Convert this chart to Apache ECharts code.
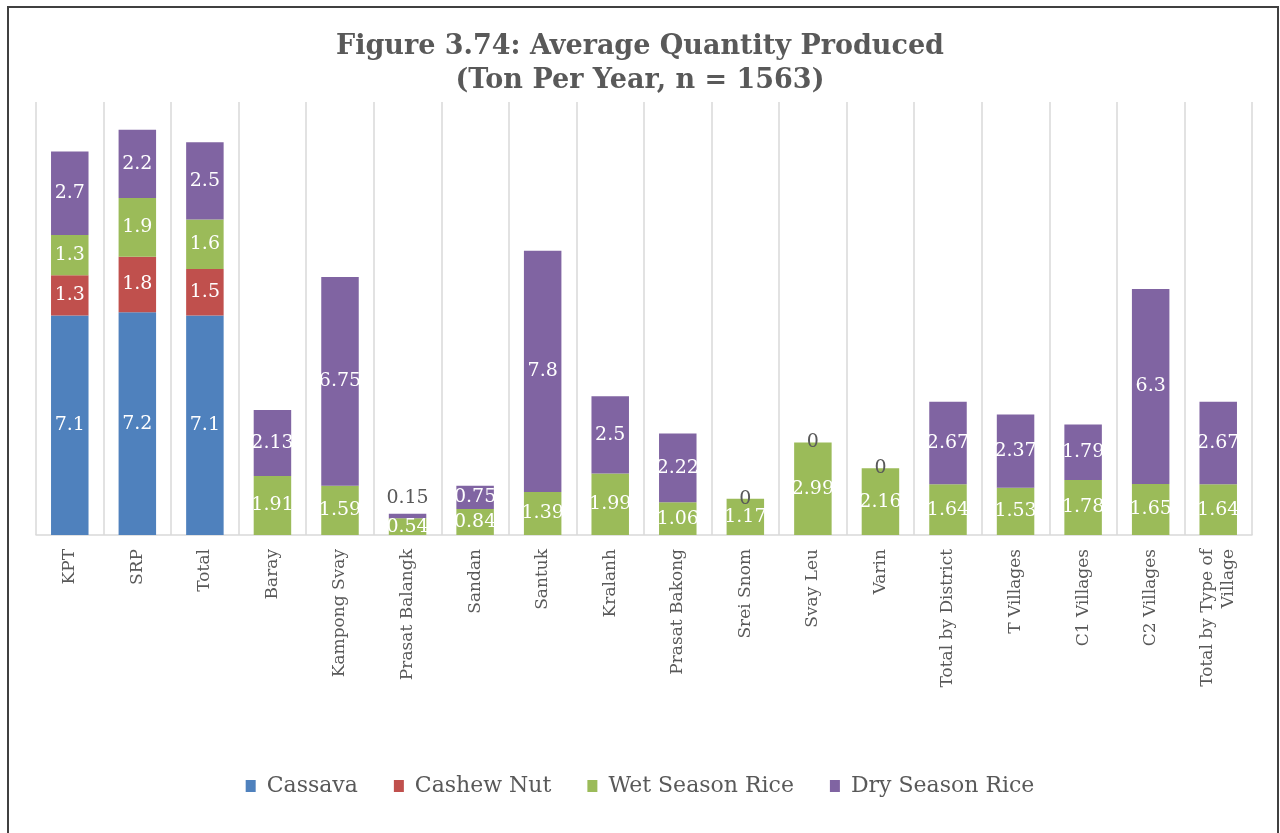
<!DOCTYPE html>
<html>
<head>
<meta charset="utf-8">
<script src="https://cdn.jsdelivr.net/npm/echarts@6/dist/echarts.min.js"></script>
<style>
html,body{margin:0;padding:0;background:#fff;}
#chart{width:1280px;height:833px;}
</style>
</head>
<body>
<div id="chart"></div>
<script>
const categories = ["KPT","SRP","Total","Baray","Kampong Svay","Prasat Balangk","Sandan","Santuk","Kralanh","Prasat Bakong","Srei Snom","Svay Leu","Varin","Total by District","T Villages","C1 Villages","C2 Villages","Total by Type of\nVillage"];
const seriesNames = ["Cassava","Cashew Nut","Wet Season Rice","Dry Season Rice"];
const cassava = [7.1,7.2,7.1,null,null,null,null,null,null,null,null,null,null,null,null,null,null,null];
const cashewNut = [1.3,1.8,1.5,null,null,null,null,null,null,null,null,null,null,null,null,null,null,null];
const wetSeasonRice = [1.3,1.9,1.6,1.91,1.59,0.54,0.84,1.39,1.99,1.06,1.17,2.99,2.16,1.64,1.53,1.78,1.65,1.64];
const drySeasonRice = [2.7,2.2,2.5,2.13,6.75,0.15,0.75,7.8,2.5,2.22,0,0,0,2.67,2.37,1.79,6.3,2.67];

const colors = ["#4f81bd","#c0504d","#9bbb59","#8064a2"];
const serif = "DejaVu Serif";
const gray = "#595959";

function mkData(arr){
  return arr.map(v=>{
    if (v === null) return null;
    if (v === 0) return {value:v, label:{color:gray}};
    if (v > 0 && v < 0.3) return {value:v, label:{position:'top', color:gray, distance:6}};
    return v;
  });
}

const chart = echarts.init(document.getElementById('chart'), null, {renderer:'canvas'});
const seriesData = [cassava, cashewNut, wetSeasonRice, drySeasonRice];
chart.setOption({
  animation:false,
  backgroundColor:'#fff',
  color:colors,
  title:{
    text:'Figure 3.74: Average Quantity Produced\n(Ton Per Year, n = 1563)',
    left:'center', top:25,
    textStyle:{fontFamily:serif, fontWeight:'bold', fontSize:27, color:gray, lineHeight:34}
  },
  legend:{
    bottom:31, left:'center',
    itemWidth:10, itemHeight:12, itemGap:36,
    icon:'rect',
    textStyle:{fontFamily:serif, fontSize:22, color:gray, padding:[0,0,0,6]},
    data:seriesNames
  },
  grid:{left:36, right:28, top:102, bottom:298, containLabel:false},
  xAxis:{
    type:'category', data:categories,
    axisLine:{lineStyle:{color:'#d9d9d9', width:1.5}},
    axisTick:{show:false},
    splitLine:{show:true, interval:0, lineStyle:{color:'#d9d9d9', width:1.5}},
    axisLabel:{rotate:90, interval:0, margin:14, fontFamily:serif, fontSize:17, color:gray, lineHeight:21}
  },
  yAxis:{type:'value', min:0, max:14, show:false, splitLine:{show:false}},
  series:seriesData.map((d,i)=>({
    name:seriesNames[i], type:'bar', stack:'total',
    barCategoryGap:'44.5%',
    data:mkData(d),
    label:{show:true, position:'inside', color:'#fff', fontFamily:serif, fontSize:19}
  })),
  graphic:[{
    type:'rect', shape:{x:8, y:7, width:1270, height:850},
    style:{fill:'none', stroke:'#404040', lineWidth:2}, silent:true, z:100
  }]
});
</script>
</body>
</html>
